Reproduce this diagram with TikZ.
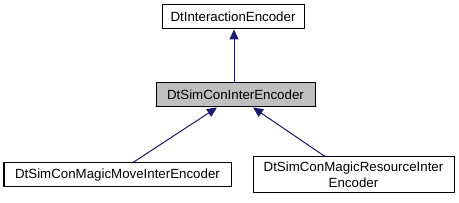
\documentclass[tikz,border=0pt]{standalone}
\usepackage{fontspec}
\setmainfont{Liberation Sans}
\usetikzlibrary{arrows.meta}
\definecolor{edgeblue}{HTML}{191970}
\definecolor{boxgray}{HTML}{BFBFBF}
\begin{document}
\begin{tikzpicture}[x=1pt,y=-1pt,
  cls/.style={draw=black,line width=1pt,fill=white,inner sep=0pt,minimum height=24pt,align=center,
    font=\fontsize{13.3}{16}\selectfont},
  inh/.style={draw=edgeblue,line width=1pt,-{Triangle[length=10pt,width=9pt]}}]
\useasboundingbox (0,0) rectangle (459,203);
\node[cls,minimum width=142pt] (top) at (233,17) {DtInteractionEncoder};
\node[cls,fill=boxgray,minimum width=159pt] (mid) at (235.5,95) {DtSimConInterEncoder};
\node[cls,minimum width=227pt] (left) at (117.5,175) {DtSimConMagicMoveInterEncoder};
\node[cls,minimum width=201pt,minimum height=36pt] (right) at (353.5,175) {DtSimConMagicResourceInter\\Encoder};
\coordinate (midtop) at ([xshift=-1.5pt]mid.north);
\draw[inh] (midtop) -- (midtop |- top.south);
\draw[inh] ([xshift=15.5pt]left.north) -- ([xshift=-18.5pt]mid.south);
\draw[inh] ([xshift=-28.5pt]right.north) -- ([xshift=17.5pt]mid.south);
\end{tikzpicture}
\end{document}
